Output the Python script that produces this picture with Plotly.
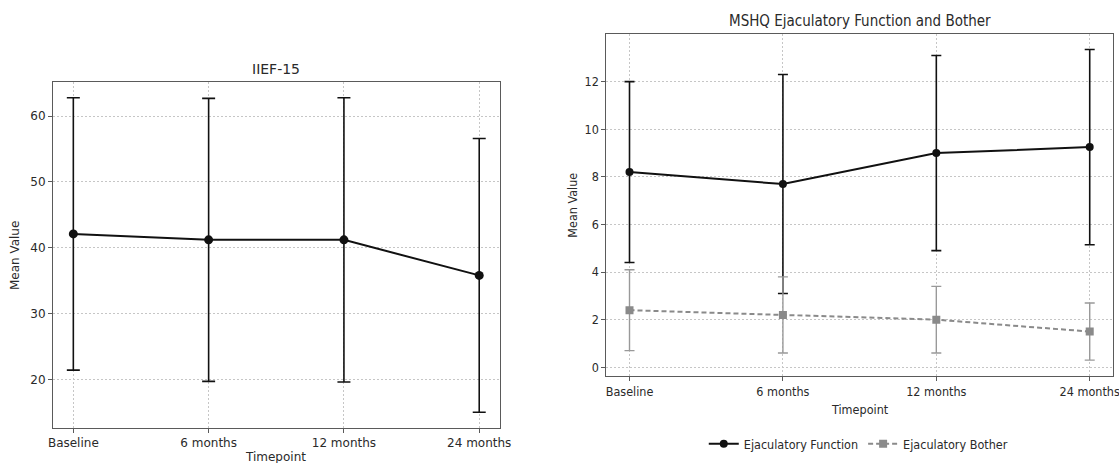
import plotly.graph_objects as go

# ---- data ----
timepoints = ["Baseline", "6 months", "12 months", "24 months"]

iief_mean = [42.1, 41.2, 41.2, 35.8]
iief_sd = [20.7, 21.5, 21.6, 20.8]
iief_ticks = [20, 30, 40, 50, 60]

ejac_func_mean = [8.2, 7.7, 9.0, 9.25]
ejac_func_sd = [3.8, 4.6, 4.1, 4.1]

ejac_both_mean = [2.4, 2.2, 2.0, 1.5]
ejac_both_sd = [1.7, 1.6, 1.4, 1.2]
mshq_ticks = [0, 2, 4, 6, 8, 10, 12]

# ---- styling ----
LEFT_FONT = "DejaVu Sans, Liberation Sans, sans-serif"
RIGHT_FONT = "DejaVu Sans Condensed, Liberation Sans Narrow, DejaVu Sans, sans-serif"
TXT = "#2a2a2a"
GRID = "#c6c6c6"
FRAME = "#5a5a5a"


def auto_range(series):
    lo = min(m - s for mm, ss in series for m, s in zip(mm, ss))
    hi = max(m + s for mm, ss in series for m, s in zip(mm, ss))
    pad = 0.05 * (hi - lo)
    return [lo - pad, hi + pad]


xi = list(range(len(timepoints)))

fig = go.Figure()

# Left: IIEF-15
fig.add_trace(go.Scatter(
    x=xi, y=iief_mean, mode="lines+markers",
    line=dict(color="#111111", width=2),
    marker=dict(symbol="circle", size=9, color="#111111"),
    error_y=dict(type="data", array=iief_sd, visible=True, color="#111111", thickness=1.6, width=6.5),
    showlegend=False, xaxis="x", yaxis="y",
))

# Right: MSHQ
fig.add_trace(go.Scatter(
    x=xi, y=ejac_func_mean, mode="lines+markers", name="Ejaculatory Function",
    line=dict(color="#111111", width=2),
    marker=dict(symbol="circle", size=8, color="#111111"),
    error_y=dict(type="data", array=ejac_func_sd, visible=True, color="#111111", thickness=1.6, width=5),
    xaxis="x2", yaxis="y2",
))
fig.add_trace(go.Scatter(
    x=xi, y=ejac_both_mean, mode="lines+markers", name="Ejaculatory Bother",
    line=dict(color="#8a8a8a", width=2, dash="5px,3px"),
    marker=dict(symbol="square", size=8, color="#8a8a8a"),
    error_y=dict(type="data", array=ejac_both_sd, visible=True, color="#999999", thickness=1.4, width=5),
    xaxis="x2", yaxis="y2",
))

common_x = dict(
    tickmode="array", tickvals=xi, ticktext=timepoints,
    range=[-0.15, len(timepoints) - 1 + 0.15],
    showgrid=True, gridcolor=GRID, griddash="2px,2px", gridwidth=0.8,
    showline=True, linecolor=FRAME, linewidth=1.2, mirror=True,
    ticks="outside", ticklen=4, tickcolor=FRAME, zeroline=False, automargin=False,
    ticklabeloverflow="allow",
)
common_y = dict(
    showgrid=True, gridcolor=GRID, griddash="2px,2px", gridwidth=0.8,
    showline=True, linecolor=FRAME, linewidth=1.2, mirror=True,
    ticks="outside", ticklen=4, tickcolor=FRAME, zeroline=False, automargin=False,
)

fig.update_layout(
    width=1119, height=463,
    margin=dict(l=0, r=0, t=0, b=0, pad=0),
    paper_bgcolor="white", plot_bgcolor="white",
    xaxis=dict(domain=[0.0474, 0.4464], anchor="y",
               tickfont=dict(family=LEFT_FONT, size=12, color=TXT), **common_x),
    yaxis=dict(domain=[0.0756, 0.8229], anchor="x",
               range=auto_range([(iief_mean, iief_sd)]),
               tickmode="array", tickvals=iief_ticks,
               tickfont=dict(family=LEFT_FONT, size=12, color=TXT), **common_y),
    xaxis2=dict(domain=[0.542, 0.9944], anchor="y2",
                tickfont=dict(family=RIGHT_FONT, size=12.5, color=TXT), **common_x),
    yaxis2=dict(domain=[0.1886, 0.9266], anchor="x2",
                range=auto_range([(ejac_func_mean, ejac_func_sd), (ejac_both_mean, ejac_both_sd)]),
                tickmode="array", tickvals=mshq_ticks,
                tickfont=dict(family=RIGHT_FONT, size=12.5, color=TXT), **common_y),
    legend=dict(orientation="h", x=0.767, xanchor="center", y=0.041, yanchor="middle",
                font=dict(family=RIGHT_FONT, size=12.5, color=TXT),
                itemwidth=30, bgcolor="rgba(0,0,0,0)"),
    annotations=[
        dict(text="IIEF-15", x=0.2466, y=0.851, xref="paper", yref="paper",
             xanchor="center", yanchor="middle", showarrow=False,
             font=dict(family=LEFT_FONT, size=14, color=TXT)),
        dict(text="Mean Value", x=0.0134, y=0.449, xref="paper", yref="paper",
             xanchor="center", yanchor="middle", textangle=-90, showarrow=False,
             font=dict(family=LEFT_FONT, size=12, color=TXT)),
        dict(text="Timepoint", x=0.2466, y=0.013, xref="paper", yref="paper",
             xanchor="center", yanchor="middle", showarrow=False,
             font=dict(family=LEFT_FONT, size=12, color=TXT)),
        dict(text="MSHQ Ejaculatory Function and Bother", x=0.7682, y=0.9553,
             xref="paper", yref="paper", xanchor="center", yanchor="middle", showarrow=False,
             font=dict(family=RIGHT_FONT, size=15, color=TXT)),
        dict(text="Mean Value", x=0.5109, y=0.5572, xref="paper", yref="paper",
             xanchor="center", yanchor="middle", textangle=-90, showarrow=False,
             font=dict(family=RIGHT_FONT, size=12.5, color=TXT)),
        dict(text="Timepoint", x=0.7682, y=0.1166, xref="paper", yref="paper",
             xanchor="center", yanchor="middle", showarrow=False,
             font=dict(family=RIGHT_FONT, size=12.5, color=TXT)),
    ],
)

fig.write_html(
    "out.html",
    config={"displayModeBar": False},
    post_script="document.body.style.margin='0';document.body.style.overflow='hidden';",
)
